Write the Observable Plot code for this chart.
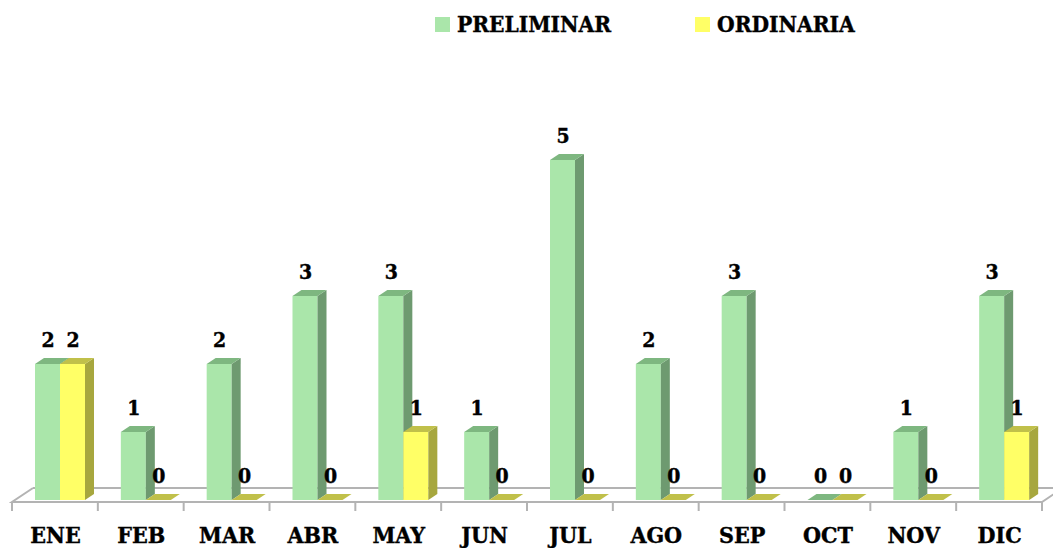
<!DOCTYPE html>
<html>
<head>
<meta charset="utf-8">
<script src="https://cdn.jsdelivr.net/npm/d3@7"></script>
<script src="https://cdn.jsdelivr.net/npm/@observablehq/plot@0.6"></script>
<style>
  body { margin: 0; background: #fff; }
  #wrap { position: relative; width: 1053px; height: 548px; overflow: hidden; }
  #legend { position: relative; height: 50px; width: 1053px; font-family: "DejaVu Serif Condensed", "DejaVu Serif", serif; font-stretch: condensed; font-weight: bold; font-size: 22.5px; -webkit-text-stroke: 0.4px #000; }
  .sw { position: absolute; top: 17px; width: 15px; height: 15px; }
  .lt { position: absolute; top: 9px; line-height: 30px; }
  svg text { stroke: #000; stroke-width: 0.4px; }
</style>
</head>
<body>
<div id="wrap">
  <div id="legend"></div>
  <div id="chart"></div>
</div>
<script>
const months = ["ENE","FEB","MAR","ABR","MAY","JUN","JUL","AGO","SEP","OCT","NOV","DIC"];
const preliminar = [2,1,2,3,3,1,5,2,3,0,1,3];
const ordinaria  = [2,0,0,0,1,0,0,0,0,0,0,1];
const seriesNames = ["PRELIMINAR","ORDINARIA"];

const colors = {
  PRELIMINAR: {front: "#aae6aa", side: "#6e9a70", top: "#7eb780"},
  ORDINARIA:  {front: "#ffff66", side: "#a7a73e", top: "#c0c04a"}
};
const FONT = "'DejaVu Serif Condensed', 'DejaVu Serif', serif";

// legend
const legend = document.getElementById("legend");
[[seriesNames[0], 435, 457], [seriesNames[1], 695, 717]].forEach(([name, sx, tx]) => {
  const s = document.createElement("div");
  s.className = "sw"; s.style.left = sx + "px"; s.style.background = colors[name].front;
  const t = document.createElement("div");
  t.className = "lt"; t.style.left = tx + "px"; t.textContent = name;
  legend.append(s, t);
});

const DX = 9, DY = 6;

function bars3d(values, f0, f1, c) {
  const data = months.map((m, i) => ({month: m, value: values[i]}));
  return Plot.barY(data, {
    x: "month", y: "value",
    render(index, scales) {
      const {x, y} = scales;
      const bw = x(months[1]) - x(months[0]);
      const g = d3.create("svg:g");
      for (const i of index) {
        const d = data[i];
        const x0 = x(d.month) + f0 * bw, x1 = x(d.month) + f1 * bw;
        const yb = y(0), yt = y(d.value);
        if (yb - yt > 0.5) {
          g.append("rect").attr("x", x0).attr("y", yt).attr("width", x1 - x0).attr("height", yb - yt).attr("fill", c.front);
          g.append("path").attr("d", `M${x1},${yt}L${x1 + DX},${yt - DY}L${x1 + DX},${yb - DY}L${x1},${yb}Z`).attr("fill", c.side);
        }
        g.append("path").attr("d", `M${x0},${yt}L${x0 + DX},${yt - DY}L${x1 + DX},${yt - DY}L${x1},${yt}Z`).attr("fill", c.top);
      }
      return g.node();
    }
  });
}

const floor = Plot.ruleY([0], {
  render(index, scales, values, dims) {
    const {x, y} = scales;
    const [r0, r1] = x.range();
    const yf = y(0) + 2, yk = y(0) - 12;
    const g = d3.create("svg:g").attr("fill", "none").attr("stroke", "#b3b3b3").attr("stroke-width", 2);
    g.append("path").attr("d", `M${r0 + 21},${yk}L${dims.width + 5},${yk}`);
    g.append("path").attr("d", `M${r0 + 21},${yk}L${r0},${yf}L${r1},${yf}L${r1 + 21},${yk}`);
    const bounds = months.map(m => x(m)).concat([r1]);
    for (const b of bounds) g.append("line").attr("x1", b).attr("x2", b).attr("y1", yf).attr("y2", yf + 9);
    return g.node();
  }
});

function labels(values, fc) {
  const data = months.map((m, i) => ({month: m, value: values[i]}));
  return Plot.text(data, {
    x: "month", y: "value", text: d => String(d.value),
    dx: fc, dy: -24,
    fontSize: 21, fontWeight: "bold", fontFamily: FONT, fill: "#000"
  });
}

const bwApprox = (1053 - 12 - 11) / 12;
const fG0 = 23 / bwApprox, fG1 = 48 / bwApprox, fY1 = 73 / bwApprox;

const chart = Plot.plot({
  width: 1053,
  height: 498,
  marginLeft: 12,
  marginRight: 11,
  marginTop: 110,
  marginBottom: 48,
  x: {domain: months, padding: 0, round: false, label: null},
  y: {domain: [0, 5], axis: null},
  style: {fontFamily: FONT, fontStretch: "condensed", background: "#fff", overflow: "visible"},
  marks: [
    floor,
    bars3d(preliminar, fG0, fG1, colors.PRELIMINAR),
    bars3d(ordinaria, fG1, fY1, colors.ORDINARIA),
    labels(preliminar, (fG0 + fG1) / 2 * bwApprox - bwApprox / 2),
    labels(ordinaria, (fG1 + fY1) / 2 * bwApprox - bwApprox / 2),
    Plot.axisX({tickSize: 0, tickPadding: 26, fontSize: 23, fontWeight: "bold", fill: "#000", label: null})
  ]
});
document.getElementById("chart").append(chart);
</script>
</body>
</html>
